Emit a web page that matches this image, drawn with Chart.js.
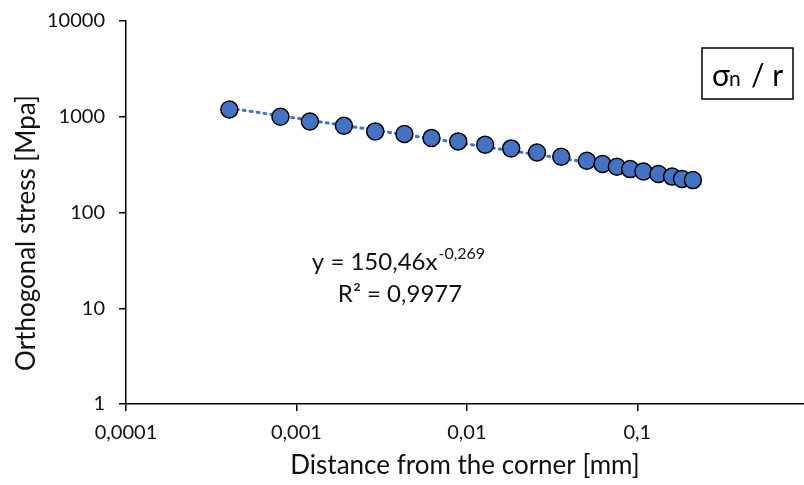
<!DOCTYPE html>
<html>
<head>
<meta charset="utf-8">
<script src="https://cdn.jsdelivr.net/npm/chart.js@4.4.0/dist/chart.umd.min.js"></script>
<style>
  html, body { margin: 0; padding: 0; background: #fff; }
  #wrap { width: 804px; height: 485px; }
</style>
</head>
<body>
<div id="wrap"><canvas id="stressChart" width="804" height="485"></canvas></div>
<script>
// distance from the corner [mm]
const distances = [0.000404, 0.000806, 0.0012, 0.0019, 0.0029, 0.0043, 0.0062, 0.0089, 0.0128, 0.0182,
  0.0258, 0.0358, 0.0506, 0.0625, 0.0759, 0.0908, 0.1087, 0.133, 0.160, 0.183, 0.212];
// orthogonal stress [MPa]
const stresses = [1190, 1000, 893, 805, 703, 660, 599, 553, 510, 467,
  424, 382, 347, 321, 301, 284, 268, 252, 237, 224, 218];
// power trend line end points
const trendX = [0.000404, 0.212];
const trendY = [1232, 228];

const xTicks = [0.0001, 0.001, 0.01, 0.1];
const xTickLabels = ['0,0001', '0,001', '0,01', '0,1'];
const yTicks = [1, 10, 100, 1000, 10000];
const yTickLabels = ['1', '10', '100', '1000', '10000'];

const FONT = 'Lato, "Open Sans", sans-serif';
const blue = '#4472C4';
const ink = '#111';

const annotations = {
  id: 'annotations',
  afterDraw(chart) {
    const ctx = chart.ctx;
    ctx.save();
    ctx.fillStyle = ink;
    ctx.textBaseline = 'alphabetic';

    // y axis title
    ctx.save();
    ctx.translate(27, 233);
    ctx.rotate(-Math.PI / 2);
    ctx.textAlign = 'center';
    ctx.textBaseline = 'middle';
    ctx.font = '26px ' + FONT;
    ctx.fillText('Orthogonal stress [Mpa]', 0, 0);
    ctx.restore();

    // fit equation
    const main = 'y = 150,46x';
    const sup = '-0,269';
    ctx.font = '24px ' + FONT;
    const w1 = ctx.measureText(main).width;
    ctx.font = '16px ' + FONT;
    const w2 = ctx.measureText(sup).width;
    const cx = 398;
    const x0 = cx - (w1 + w2) / 2;
    ctx.textAlign = 'left';
    ctx.font = '24px ' + FONT;
    ctx.fillText(main, x0, 270);
    ctx.font = '16px ' + FONT;
    ctx.fillText(sup, x0 + w1 + 1, 259);
    ctx.font = '24px ' + FONT;
    ctx.textAlign = 'center';
    ctx.fillText('R\u00B2 = 0,9977', 400, 302);

    // label box
    ctx.strokeStyle = '#000';
    ctx.lineWidth = 1.5;
    ctx.strokeRect(702, 48, 91, 51);
    ctx.textAlign = 'left';
    ctx.fillStyle = '#000';
    ctx.font = '30px ' + FONT;
    ctx.fillText('\u03C3', 712, 86);
    ctx.font = '21px ' + FONT;
    ctx.fillText('n', 729, 86);
    ctx.font = '30px ' + FONT;
    ctx.fillText('/ r', 751, 86);
    ctx.restore();
  }
};

new Chart(document.getElementById('stressChart'), {
  type: 'scatter',
  data: {
    datasets: [
      {
        label: 'trend',
        data: trendX.map((x, i) => ({ x: x, y: trendY[i] })),
        showLine: true,
        borderColor: blue,
        borderWidth: 3,
        borderDash: [2, 5],
        borderCapStyle: 'round',
        pointRadius: 0,
        order: 2
      },
      {
        label: 'stress',
        data: distances.map((x, i) => ({ x: x, y: stresses[i] })),
        backgroundColor: blue,
        borderColor: '#000',
        borderWidth: 1.5,
        pointRadius: 8.5,
        order: 1
      }
    ]
  },
  options: {
    responsive: false,
    animation: false,
    layout: { autoPadding: false, padding: { top: 21, right: 0, left: 0, bottom: 0 } },
    plugins: { legend: { display: false }, tooltip: { enabled: false } },
    scales: {
      x: {
        type: 'logarithmic',
        min: 0.0001,
        max: 0.951,
        afterBuildTicks: s => { s.ticks = xTicks.map(v => ({ value: v })); },
        afterFit: s => { s.height = 81; s.paddingLeft = 0; s.paddingRight = 0; },
        ticks: {
          callback: (v) => { const i = xTicks.indexOf(v); return i >= 0 ? xTickLabels[i] : ''; },
          color: ink,
          font: { family: FONT, size: 20 },
          maxRotation: 0,
          padding: 10
        },
        grid: { drawOnChartArea: false, drawTicks: true, tickLength: 7, color: '#000', lineWidth: 1.5 },
        border: { color: '#000', width: 1.5 },
        title: {
          display: true,
          text: 'Distance from the corner [mm]',
          color: ink,
          font: { family: FONT, size: 26 },
          padding: { top: 6 }
        }
      },
      y: {
        type: 'logarithmic',
        min: 1,
        max: 10000,
        afterBuildTicks: s => { s.ticks = yTicks.map(v => ({ value: v })); },
        afterFit: s => { s.width = 126; s.paddingTop = 0; s.paddingBottom = 0; },
        ticks: {
          callback: (v) => { const i = yTicks.indexOf(v); return i >= 0 ? yTickLabels[i] : ''; },
          color: ink,
          font: { family: FONT, size: 20 },
          padding: 14
        },
        grid: { drawOnChartArea: false, drawTicks: true, tickLength: 7, color: '#000', lineWidth: 1.5 },
        border: { color: '#000', width: 1.5 }
      }
    }
  },
  plugins: [annotations]
});
</script>
</body>
</html>
